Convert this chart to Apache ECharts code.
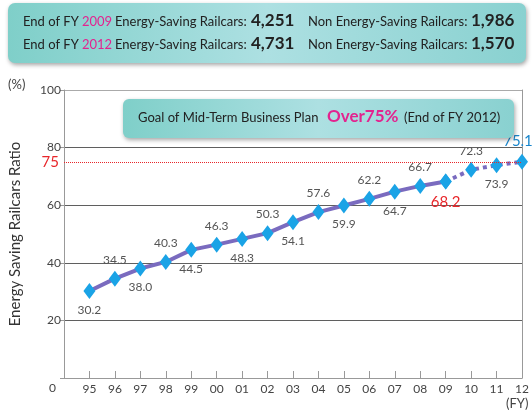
<!DOCTYPE html>
<html>
  <head>
    <meta charset="utf-8" />
    <title>Energy Saving Railcars Ratio</title>
    <script src="https://cdn.jsdelivr.net/npm/echarts@6/dist/echarts.min.js"></script>
    <style>
      body { margin: 0; padding: 0; background: #fff; }
      #main { width: 532px; height: 414px; }
    </style>
  </head>
  <body>
    <div id="main"></div>
    <script type="text/javascript">
      // fiscal years (first slot is the blank start of the axis)
      var years = ["", "95", "96", "97", "98", "99", "00", "01", "02", "03", "04", "05", "06", "07", "08", "09", "10", "11", "12"];
      // energy saving railcars ratio (%), FY95 - FY12
      var ratio = [30.2, 34.5, 38.0, 40.3, 44.5, 46.3, 48.3, 50.3, 54.1, 57.6, 59.9, 62.2, 64.7, 66.7, 68.2, 72.3, 73.9, 75.1];
      var actualCount = 15; // 95..09 are results, 10..12 are plan
      var goal = 75;
      var yTicks = [0, 20, 40, 60, 80, 100];

      var FONT = "Lato";
      var myChart = echarts.init(document.getElementById("main"));

      function oneDecimal(p) {
        return Number(p.value).toFixed(1);
      }

      function makePoint(v, i) {
        var above = i % 2 === 1;
        var lbl = { show: true, position: above ? "top" : "bottom", color: "#555", fontSize: 12, fontFamily: FONT, formatter: oneDecimal };
        if (i === actualCount - 1) {
          lbl.color = "#e8262a";
          lbl.fontSize = 15;
        }
        if (i === ratio.length - 1) {
          lbl.color = "#1a86cc";
          lbl.fontSize = 15;
          lbl.offset = [-4, 0];
        }
        return { value: v, label: lbl };
      }

      // solid part (results) and dotted part (plan)
      var solidData = [null];
      var dottedData = [null];
      ratio.forEach(function (v, i) {
        if (i < actualCount) {
          solidData.push(makePoint(v, i));
        } else {
          solidData.push(null);
        }
        if (i >= actualCount - 1) {
          dottedData.push(i === actualCount - 1 ? { value: v, label: { show: false } } : makePoint(v, i));
        } else {
          dottedData.push(null);
        }
      });

      var boxFill = new echarts.graphic.LinearGradient(0, 0, 1, 0, [
        { offset: 0, color: "#7fcfc9" },
        { offset: 0.5, color: "#ade0e2" },
        { offset: 1, color: "#89d1d0" },
      ]);

      function txt(x, y, s, size, color, weight) {
        return {
          type: "text",
          x: x,
          y: y,
          z: 10,
          style: {
            text: s,
            fontSize: size,
            fontFamily: FONT,
            fontWeight: weight || "normal",
            fill: color || "#222",
            verticalAlign: "middle",
          },
        };
      }

      var option = {
        animation: false,
        grid: { left: 58, right: 10, top: 90, bottom: 36 },
        xAxis: {
          type: "category",
          data: years,
          boundaryGap: false,
          axisLine: { lineStyle: { color: "#999", width: 1 } },
          axisTick: { show: true, inside: true, length: 7, interval: 0, lineStyle: { color: "#999" } },
          axisLabel: { interval: 0, color: "#444", fontSize: 12, fontFamily: FONT, margin: 5 },
          splitLine: { show: false },
        },
        yAxis: [
          {
            type: "value",
            min: yTicks[0],
            max: yTicks[yTicks.length - 1],
            interval: 20,
            name: "Energy Saving Railcars Ratio",
            nameLocation: "middle",
            nameGap: 41,
            nameTextStyle: { fontSize: 15, color: "#333", fontFamily: FONT },
            axisLine: { show: true, lineStyle: { color: "#999" } },
            axisTick: { show: true, length: 4, lineStyle: { color: "#999" } },
            axisLabel: {
              color: "#444",
              fontSize: 12,
              fontFamily: FONT,
              margin: 3,
              formatter: function (v) {
                return v === 0 ? "" : v;
              },
            },
            splitLine: { show: true, lineStyle: { color: ["#999", "#5f5f5f", "#5f5f5f", "#5f5f5f", "#5f5f5f", "#aaa"], width: 1 } },
          },
          {
            type: "value",
            min: 0,
            max: 100,
            position: "right",
            axisLine: { show: true, lineStyle: { color: "#999" } },
            axisTick: { show: false },
            axisLabel: { show: false },
            splitLine: { show: false },
          },
        ],
        series: [
          {
            name: "Result",
            type: "line",
            data: solidData,
            symbol: "diamond",
            symbolSize: [12, 16],
            itemStyle: { color: "#1aa3e6" },
            lineStyle: { color: "#7a6bbf", width: 4 },
            z: 3,
            markLine: {
              silent: true,
              symbol: "none",
              lineStyle: { color: "#e8262a", type: "dotted", width: 1 },
              label: { position: "start", formatter: String(goal), color: "#e8262a", fontSize: 15, fontFamily: FONT, distance: 5 },
              data: [{ yAxis: goal }],
            },
          },
          {
            name: "Plan",
            type: "line",
            data: dottedData,
            symbol: "diamond",
            symbolSize: [12, 16],
            itemStyle: { color: "#1aa3e6" },
            lineStyle: { color: "#7a6bbf", width: 4, type: "dotted" },
            z: 3,
          },
        ],
        graphic: [
          {
            type: "rect",
            shape: { x: 8, y: 3, width: 518, height: 60, r: 7 },
            style: { fill: boxFill, shadowBlur: 4, shadowOffsetX: 1, shadowOffsetY: 2, shadowColor: "rgba(0,0,0,0.35)" },
            z: 5,
          },
          txt(23, 22, "End of FY", 13),
          txt(82, 22, "2009", 13, "#e3238f"),
          txt(115, 22, "Energy-Saving Railcars:", 13),
          txt(251, 21, "4,251", 17, "#222", "bold"),
          txt(308, 22, "Non Energy-Saving Railcars:", 13),
          txt(471, 21, "1,986", 17, "#222", "bold"),
          txt(23, 45, "End of FY", 13),
          txt(82, 45, "2012", 13, "#e3238f"),
          txt(115, 45, "Energy-Saving Railcars:", 13),
          txt(251, 44, "4,731", 17, "#222", "bold"),
          txt(308, 45, "Non Energy-Saving Railcars:", 13),
          txt(471, 44, "1,570", 17, "#222", "bold"),
          {
            type: "rect",
            shape: { x: 123, y: 99, width: 391, height: 39, r: 6 },
            style: { fill: boxFill, shadowBlur: 4, shadowOffsetX: 1, shadowOffsetY: 2, shadowColor: "rgba(0,0,0,0.35)" },
            z: 5,
          },
          txt(138, 118, "Goal of Mid-Term Business Plan", 13),
          txt(327, 117, "Over75%", 17, "#e3238f", "bold"),
          txt(404, 118, "(End of FY 2012)", 13),
          txt(8, 85, "(%)", 13, "#444"),
          txt(49, 388, "0", 12, "#444"),
          txt(506, 404, "(FY)", 13, "#444"),
        ],
      };

      myChart.setOption(option);
    </script>
  </body>
</html>
